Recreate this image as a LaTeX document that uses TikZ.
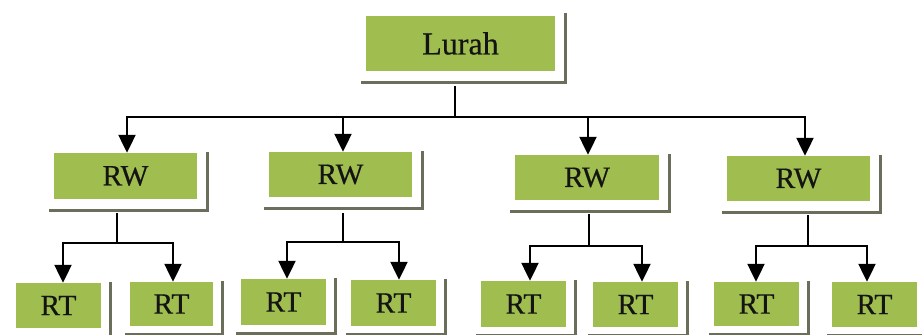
\documentclass[tikz,border=0pt]{standalone}
\usepackage{fontspec}
\setmainfont{Liberation Serif}
\newfontfamily\orgfont[FakeBold=0.5]{Liberation Serif}
\usetikzlibrary{arrows.meta}
\definecolor{boxgreen}{HTML}{A0BE50}
\definecolor{framegrey}{HTML}{6B6E5A}
\definecolor{inkblack}{HTML}{141414}
\tikzset{
  orgbox/.style={fill=boxgreen, draw=none, inner sep=0pt, text=inkblack,
    font=\orgfont\fontsize{29.5}{34}\selectfont},
  framebar/.style={draw=framegrey, line width=3pt},
  link/.style={draw=black, line width=2.2pt},
  headtip/.tip={Triangle[length=18pt, width=17pt]},
  linkarrow/.style={link, -headtip},
}
% corner frame drawn at the lower right of a box: name, right gap, top overhang, bottom gap
\newcommand\cornerframe[4]{%
  \draw[framebar] ([xshift=#2pt, yshift=#3pt]#1.north east)
    |- ([xshift=-5pt, yshift=-#4pt]#1.south west);}
\begin{document}
\begin{tikzpicture}[x=1pt, y=-1pt]
  \clip (0,0) rectangle (922,335);
  \fill[white] (0,0) rectangle (922,335);

  % top level
  \node[orgbox, minimum width=189pt, minimum height=55pt,
        font=\orgfont\fontsize{32}{36}\selectfont] (lurah) at (460.5,43.5) {Lurah};
  \cornerframe{lurah}{10}{3}{11}

  % second level
  \node[orgbox, minimum width=143pt, minimum height=46pt] (rw1) at (125.5,176) {RW};
  \node[orgbox, minimum width=143pt, minimum height=45pt] (rw2) at (340.5,174.5) {RW};
  \node[orgbox, minimum width=144pt, minimum height=45pt] (rw3) at (587,177.5) {RW};
  \node[orgbox, minimum width=143pt, minimum height=45pt] (rw4) at (798.5,178.5) {RW};
  \foreach \n in {rw1,rw2,rw3,rw4} {\cornerframe{\n}{10}{1}{11}}

  % third level
  \node[orgbox, minimum width=85pt, minimum height=45pt] (rt1) at (58.5,305.5) {RT};
  \node[orgbox, minimum width=83pt, minimum height=44pt] (rt2) at (171.5,304) {RT};
  \node[orgbox, minimum width=85pt, minimum height=46pt] (rt3) at (283.5,302) {RT};
  \node[orgbox, minimum width=85pt, minimum height=46pt] (rt4) at (393.5,303) {RT};
  \node[orgbox, minimum width=85pt, minimum height=46pt] (rt5) at (523.5,304) {RT};
  \node[orgbox, minimum width=85pt, minimum height=45pt] (rt6) at (635.5,304.5) {RT};
  \node[orgbox, minimum width=85pt, minimum height=44pt] (rt7) at (756.5,304) {RT};
  \node[orgbox, minimum width=85pt, minimum height=45pt] (rt8) at (874.5,304.5) {RT};
  \foreach \n in {rt1,rt2,rt3,rt4,rt5,rt6,rt7,rt8} {\cornerframe{\n}{9}{1}{8}}

  % connector junctions
  \coordinate (lurahstem) at (455,86);
  \coordinate (busL) at (127,117);
  \coordinate (busR) at (805,117);
  \coordinate (j1) at (117,213);  \coordinate (j2) at (343,213);
  \coordinate (j3) at (589,214);  \coordinate (j4) at (808,215);

  % Lurah to the RW boxes
  \draw[link] (lurahstem) -- (lurahstem |- busL);
  \draw[link] ([xshift=-1pt]busL) -- ([xshift=1pt]busR);
  \draw[linkarrow] (busL) -- (busL |- rw1.north);
  \draw[linkarrow] (343,117) -- (rw2.north -| 343,0);
  \draw[linkarrow] (588,117) -- (rw3.north -| 588,0);
  \draw[linkarrow] (busR) -- (busR |- rw4.north);

  % each RW to its two RT boxes
  \foreach \j/\y/\a/\b/\ta/\tb in {j1/243/63/173/rt1/rt2, j2/242/287/399/rt3/rt4,
                                  j3/246/530/642/rt5/rt6, j4/246/756/867/rt7/rt8} {
    \draw[link] (\j) -- (\j |- 0,\y);
    \draw[link] ([xshift=-1pt]\a,\y) -- ([xshift=1pt]\b,\y);
    \draw[linkarrow] (\a,\y) -- (\ta.north -| \a,0);
    \draw[linkarrow] (\b,\y) -- (\tb.north -| \b,0);
  }
\end{tikzpicture}
\end{document}
